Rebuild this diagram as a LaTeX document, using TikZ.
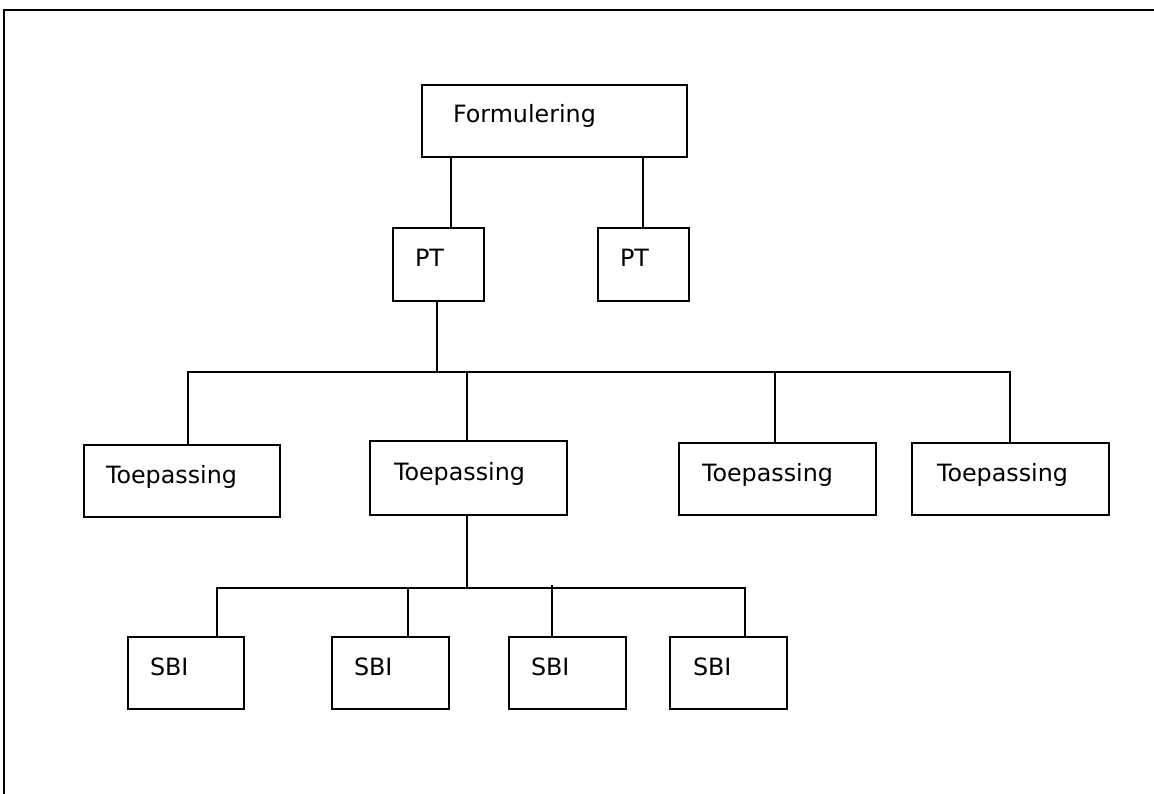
\documentclass[tikz,border=0pt]{standalone}
\usepackage{fontspec}
\setmainfont{DejaVu Sans}
\usetikzlibrary{calc}
\begin{document}
\begin{tikzpicture}[x=1pt,y=-1pt,
  bx/.style n args={4}{draw, line width=2pt, inner ysep=0pt, inner xsep=#3,
    minimum width=#1, minimum height=#2, text width=#1-2*#3-2pt,
    align=left, anchor=north west, text height=10pt, text depth=6pt,
    font=\fontsize{23.8}{28}\selectfont},
  ln/.style={line width=2pt},
  frame/.style={line width=2.4pt}]
\useasboundingbox (0,0) rectangle (1154,794);
\draw[frame] (4,794) -- (4,10) -- (1154,10);

\node[bx={265pt}{72pt}{30pt}] (F) at (421,84) {Formulering};
\node[bx={91pt}{73pt}{21pt}] (PTL) at (392,227) {PT};
\node[bx={91pt}{73pt}{21pt}] (PTR) at (597,227) {PT};

\node[bx={196pt}{72pt}{21pt}] (T1) at (83,444) {Toepassing};
\node[bx={197pt}{74pt}{23pt}] (T2) at (369,440) {Toepassing};
\node[bx={197pt}{72pt}{22pt}] (T3) at (678,442) {Toepassing};
\node[bx={197pt}{72pt}{24pt}] (T4) at (911,442) {Toepassing};

\node[bx={116pt}{72pt}{21pt}] (S1) at (127,636) {SBI};
\node[bx={117pt}{72pt}{21pt}] (S2) at (331,636) {SBI};
\node[bx={117pt}{72pt}{21pt}] (S3) at (508,636) {SBI};
\node[bx={117pt}{72pt}{22pt}] (S4) at (669,636) {SBI};

% Formulering to PT
\draw[ln] ([xshift=30pt]F.south west) -- ([xshift=30pt]F.south west |- PTL.north);
\draw[ln] ([xshift=-45pt]F.south east) -- ([xshift=-45pt]F.south east |- PTR.north);

% PT to Toepassing bus
\coordinate (b1) at (188,372);
\coordinate (b2) at (467,372);
\coordinate (b3) at (775,372);
\coordinate (b4) at (1010,372);
\coordinate (bp) at (437,372);
\draw[ln] (bp |- PTL.south) -- (bp);
\draw[ln] (b1 |- T1.north) -- (b1) -- (b4) -- (b4 |- T4.north);
\draw[ln] (b2) -- (b2 |- T2.north);
\draw[ln] (b3) -- (b3 |- T3.north);

% Toepassing to SBI bus
\coordinate (s1) at (217,588);
\coordinate (s2) at (408,588);
\coordinate (s3) at (552,585);
\coordinate (s4) at (745,588);
\draw[ln] (b2 |- T2.south) -- (b2 |- s1);
\draw[ln] (s1 |- S1.north) -- (s1) -- (s4) -- (s4 |- S4.north);
\draw[ln] (s2) -- (s2 |- S2.north);
\draw[ln] (s3) -- (s3 |- S3.north);
\end{tikzpicture}
\end{document}
